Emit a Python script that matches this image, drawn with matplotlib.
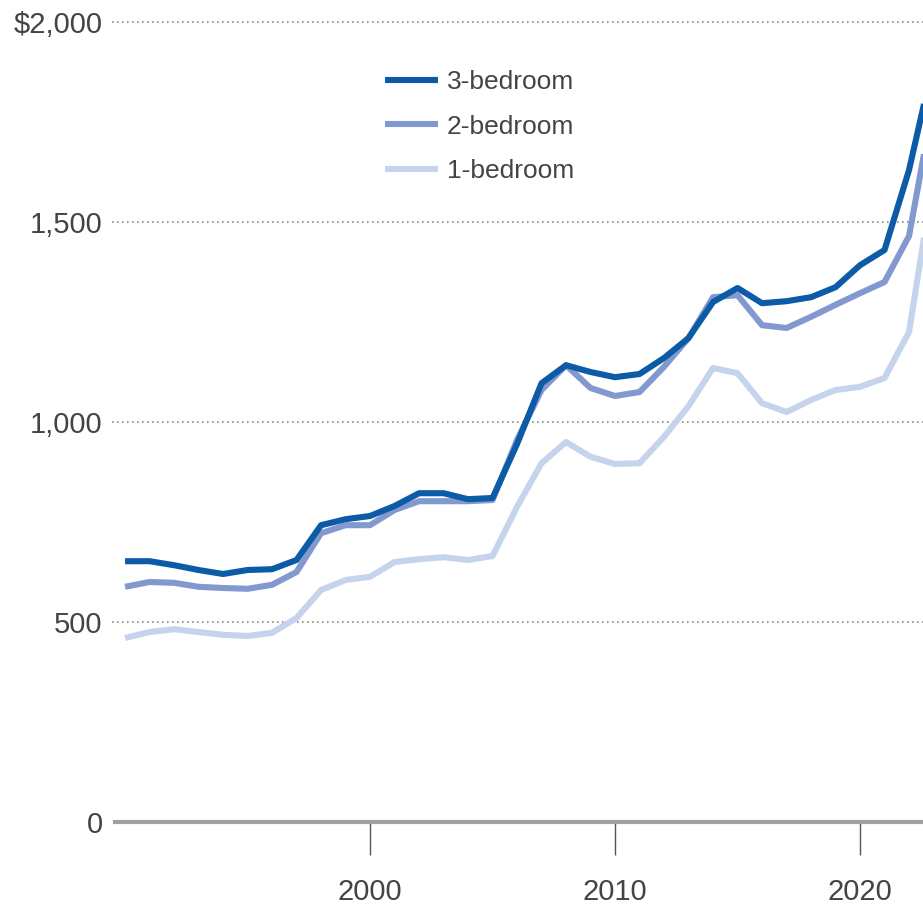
import matplotlib
matplotlib.use('Agg')
import matplotlib.pyplot as plt

years = list(range(1990, 2024))

rent_3br = [652, 652, 642, 630, 620, 630, 632, 655, 742, 757,
            765, 790, 822, 822, 807, 810, 945, 1097, 1142, 1125,
            1112, 1120, 1160, 1210, 1300, 1335, 1297, 1302, 1312, 1337,
            1392, 1430, 1630, 1900]
rent_2br = [588, 600, 598, 588, 585, 583, 593, 625, 722, 742,
            742, 780, 802, 802, 802, 805, 955, 1080, 1142, 1085,
            1065, 1075, 1138, 1210, 1312, 1317, 1242, 1235, 1263, 1293,
            1322, 1350, 1465, 1800]
rent_1br = [460, 475, 482, 475, 468, 465, 473, 510, 580, 605,
            613, 650, 657, 662, 655, 665, 788, 897, 950, 913,
            895, 897, 963, 1040, 1135, 1122, 1047, 1025, 1055, 1080,
            1088, 1110, 1225, 1610]

y_ticks = [0, 500, 1000, 1500, 2000]
y_labels = ['0', '500', '1,000', '1,500', '$2,000']
x_ticks = [2000, 2010, 2020]

text_col = '#444444'
tick_font = ['Liberation Sans', 'DejaVu Sans']

fig = plt.figure(figsize=(9.23, 9.07), dpi=100)
ax = fig.add_axes([115 / 923, 85 / 907, 808 / 923, 800 / 907])

ax.plot(years, rent_1br, color='#c6d3ec', lw=4.4, label='1-bedroom', solid_capstyle='butt')
ax.plot(years, rent_2br, color='#8199cf', lw=4.4, label='2-bedroom', solid_capstyle='butt')
ax.plot(years, rent_3br, color='#0b5ba6', lw=4.4, label='3-bedroom', solid_capstyle='butt')

ax.set_xlim(1989.59, 2022.57)
ax.set_ylim(0, 2000)

# dotted gridlines, starting a little left of the axis
for v in y_ticks[1:]:
    ax.axhline(v, color='#8a8a8a', lw=1.2, ls=(0, (1, 2)), zorder=0, xmin=-0.004, clip_on=False)

for s in ['top', 'right', 'left']:
    ax.spines[s].set_visible(False)
ax.spines['bottom'].set_color('#a0a0a0')
ax.spines['bottom'].set_linewidth(3)

ax.set_yticks(y_ticks)
ax.set_yticklabels(y_labels, family=tick_font, fontsize=21, color=text_col)
ax.tick_params(axis='y', length=0, pad=9)
ax.set_xticks(x_ticks)
ax.set_xticklabels([str(x) for x in x_ticks], family=tick_font, fontsize=21, color=text_col)
ax.tick_params(axis='x', length=24, width=1, color='#555555', pad=16, direction='out')

handles, labels = ax.get_legend_handles_labels()
leg = ax.legend(handles[::-1], labels[::-1], loc='upper left',
                bbox_to_anchor=(385 / 923, 1 - 70 / 907), bbox_transform=fig.transFigure,
                frameon=False, borderpad=0, borderaxespad=0, handlelength=2.0,
                handletextpad=0.35, labelspacing=0.78,
                prop={'family': tick_font, 'size': 19})
for t in leg.get_texts():
    t.set_color(text_col)

fig.savefig('out.png', dpi=100)
